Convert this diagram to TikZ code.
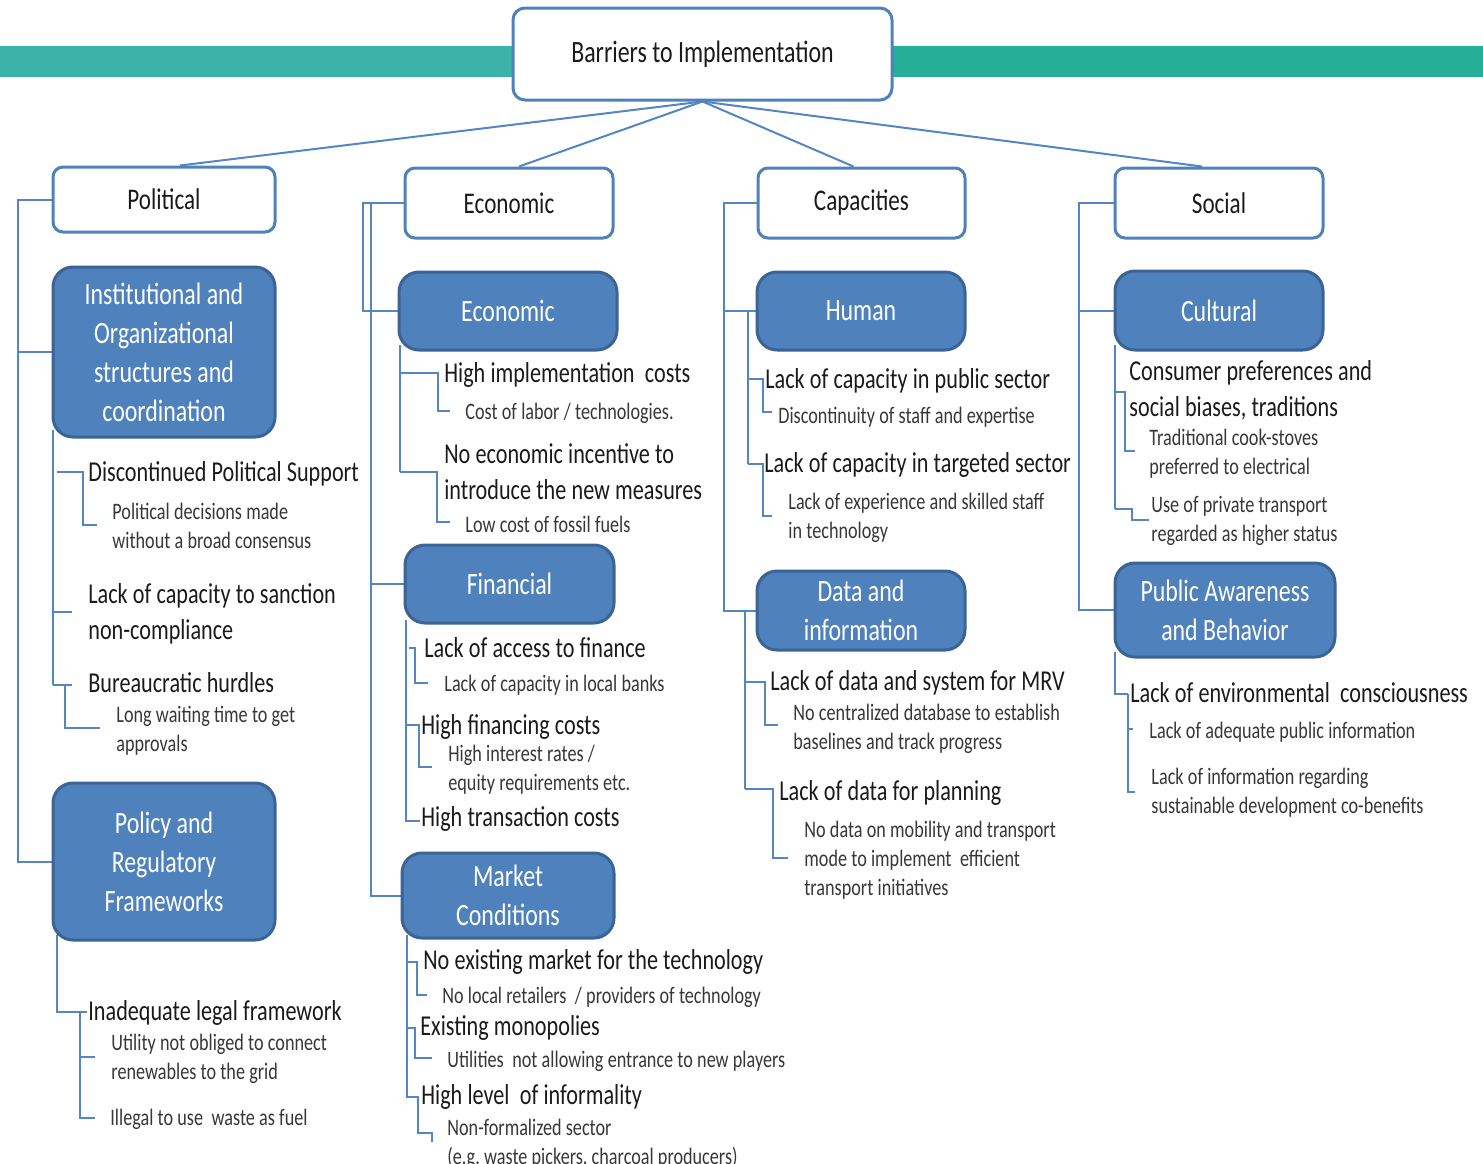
\documentclass[tikz,border=0pt]{standalone}
\usepackage{fontspec}
\setmainfont{Carlito}[FakeStretch=0.77]
\usetikzlibrary{backgrounds}
\definecolor{teal1}{RGB}{59,179,168}
\definecolor{teal2}{RGB}{38,175,152}
\definecolor{boxblue}{RGB}{79,129,189}
\definecolor{boxedge}{RGB}{58,99,150}
\definecolor{linkblue}{RGB}{84,134,196}
\definecolor{itemtext}{RGB}{26,26,26}
\definecolor{subtext}{RGB}{55,55,55}
\tikzset{
  topbox/.style={draw=boxblue, line width=1.5pt, fill=white, rounded corners=6pt,
    font=\fontsize{15.5}{19}\selectfont, text=itemtext, inner sep=0pt},
  catbox/.style={draw=boxblue, line width=1.5pt, fill=white, rounded corners=5pt,
    font=\fontsize{15}{18}\selectfont, text=itemtext, inner sep=0pt},
  bluebox/.style={draw=boxedge, line width=1.5pt, fill=boxblue, rounded corners=10pt,
    font=\fontsize{15.5}{19.5}\selectfont, text=white, align=center, inner sep=0pt},
  % narrow word spacing to suit the condensed face
  tightspace/.style={execute at begin node={\spaceskip=0.18em plus 0.04em minus 0.03em\relax}},
  itemtxt/.style={anchor=base west, inner sep=0pt, text width=220pt, align=left,
    font=\fontsize{14.4}{18}\selectfont, text=itemtext, tightspace},
  subtxt/.style={anchor=base west, inner sep=0pt, text width=220pt, align=left,
    font=\fontsize{11.8}{14.5}\selectfont, text=subtext, tightspace},
  linkline/.style={draw=linkblue, line width=1pt},
}
\begin{document}
\begin{tikzpicture}[x=0.5pt,y=-0.5pt]
\useasboundingbox (0,0) rectangle (1483,1163);

% ---- boxes ----
\node[topbox, minimum width=189.5pt, minimum height=46pt] (top) at (702.5,54) {Barriers to Implementation};

\node[catbox, minimum width=111pt, minimum height=32.5pt] (pol) at (164,199.5) {Political};
\node[catbox, minimum width=104pt, minimum height=35pt] (eco) at (509,203) {Economic};
\node[catbox, minimum width=103.5pt, minimum height=35pt] (cap) at (861.5,203) {Capacities};
\node[catbox, minimum width=104pt, minimum height=35pt] (soc) at (1219,203) {Social};

\node[bluebox, minimum width=111pt, minimum height=85pt] (ins) at (164,352)
  {Institutional and\\Organizational\\structures and\\coordination};
\node[bluebox, minimum width=111pt, minimum height=78.5pt] (reg) at (164,861.5)
  {Policy and\\Regulatory\\Frameworks};
\node[bluebox, minimum width=109pt, minimum height=39pt] (ecb) at (508,311) {Economic};
\node[bluebox, minimum width=104.5pt, minimum height=39pt] (fin) at (509.5,584) {Financial};
\node[bluebox, minimum width=106pt, minimum height=42.5pt] (mkt) at (508,895.5) {Market\\Conditions};
\node[bluebox, minimum width=104pt, minimum height=39pt] (hum) at (861,311) {Human};
\node[bluebox, minimum width=104pt, minimum height=39.5pt] (dat) at (861,610.5) {Data and\\information};
\node[bluebox, minimum width=104pt, minimum height=39.5pt] (cul) at (1219,310.5) {Cultural};
\node[bluebox, minimum width=110pt, minimum height=47pt] (pab) at (1225,610) {Public Awareness\\and Behavior};

% ---- political items ----
\node[itemtxt] (p1) at (88,481) {Discontinued Political Support};
\node[subtxt] (p1a) at (112,519) {Political decisions made\\without a broad consensus};
\node[itemtxt] (p2) at (88,603) {Lack of capacity to sanction\\non-compliance};
\node[itemtxt] (p3) at (88,692) {Bureaucratic hurdles};
\node[subtxt] (p3a) at (116,722) {Long waiting time to get\\approvals};
\node[itemtxt] (p4) at (88,1020) {Inadequate legal framework};
\node[subtxt] (p4a) at (111,1050) {Utility not obliged to connect\\renewables to the grid};
\node[subtxt] (p4b) at (110,1125) {Illegal to use\ \ waste as fuel};

% ---- economic items ----
\node[itemtxt] (e1) at (444,382) {High implementation\ \ costs};
\node[subtxt] (e1a) at (465,419) {Cost of labor / technologies.};
\node[itemtxt] (e2) at (444,463) {No economic incentive to\\introduce the new measures};
\node[subtxt] (e2a) at (465,532) {Low cost of fossil fuels};
\node[itemtxt] (f1) at (424,657) {Lack of access to finance};
\node[subtxt] (f1a) at (444,691) {Lack of capacity in local banks};
\node[itemtxt] (f2) at (421,734) {High financing costs};
\node[subtxt] (f2a) at (448,761) {High interest rates /\\equity requirements etc.};
\node[itemtxt] (f3) at (421,826) {High transaction costs};
\node[itemtxt] (m1) at (423,969) {No existing market for the technology};
\node[subtxt] (m1a) at (442,1003) {No local retailers\ \ / providers of technology};
\node[itemtxt] (m2) at (420,1035) {Existing monopolies};
\node[subtxt] (m2a) at (447,1067) {Utilities\ \ not allowing entrance to new players};
\node[itemtxt] (m3) at (421,1104) {High level\ \ of informality};
\node[subtxt] (m3a) at (447,1135) {Non-formalized sector\\(e.g.\ waste pickers, charcoal producers)};

% ---- capacities items ----
\node[itemtxt] (h1) at (765,388) {Lack of capacity in public sector};
\node[subtxt] (h1a) at (778,423) {Discontinuity of staff and expertise};
\node[itemtxt] (h2) at (764,472) {Lack of capacity in targeted sector};
\node[subtxt] (h2a) at (788,509) {Lack of experience and skilled staff\\in technology};
\node[itemtxt] (d1) at (770,690) {Lack of data and system for MRV};
\node[subtxt] (d1a) at (793,720) {No centralized database to establish\\baselines and track progress};
\node[itemtxt] (d2) at (779,800) {Lack of data for planning};
\node[subtxt] (d2a) at (804,837) {No data on mobility and transport\\mode to implement\ \ efficient\\transport initiatives};

% ---- social items ----
\node[itemtxt] (c1) at (1129,380) {Consumer preferences and\\social biases, traditions};
\node[subtxt] (c1a) at (1149,445) {Traditional cook-stoves\\preferred to electrical};
\node[subtxt] (c1b) at (1151,512) {Use of private transport\\regarded as higher status};
\node[itemtxt] (a1) at (1130,702) {Lack of environmental\ \ consciousness};
\node[subtxt] (a1a) at (1149,738) {Lack of adequate public information};
\node[subtxt] (a1b) at (1151,784) {Lack of information regarding\\sustainable development co-benefits};

\begin{pgfonlayer}{background}
  % header band
  \fill[teal1] (0,46) rectangle (530,77);
  \fill[teal2] (870,46) rectangle (1483,77);

  % title to categories
  \draw[linkline] (top.south) -- ([xshift=8pt]pol.north);
  \draw[linkline] (top.south) -- ([xshift=5pt]eco.north);
  \draw[linkline] (top.south) -- ([xshift=-4pt]cap.north);
  \draw[linkline] (top.south) -- ([xshift=-8.5pt]soc.north);

  % political spine
  \coordinate (polspine) at (18,199.5);
  \draw[linkline] (pol.west) -- (polspine) |- (reg.west);
  \draw[linkline] (polspine) |- (ins.west);
  % institutional branch
  \draw[linkline] (53,430) -- (53,685);
  \draw[linkline] (57,472) -- (83,472) -- (83,525) -- (97,525);
  \draw[linkline] (53,612) -- (72,612);
  \draw[linkline] (53,685) -- (72,685);
  \draw[linkline] (65,685) -- (65,728) -- (100,728);
  % regulatory branch
  \draw[linkline] (57,935) -- (57,1012) -- (87,1012);
  \draw[linkline] (80,1012) -- (80,1118) -- (95,1118);
  \draw[linkline] (80,1057) -- (95,1057);

  % economic spine
  \coordinate (ecospineA) at (363,203);
  \coordinate (ecospineB) at (371,203);
  \draw[linkline] (eco.west) -- (ecospineA) |- (ecb.west);
  \draw[linkline] (ecospineB) |- (mkt.west);
  \draw[linkline] (ecospineB |- fin.west) -- (fin.west);
  % economic branch
  \draw[linkline] (400,345) -- (400,472);
  \draw[linkline] (400,373) -- (438,373) -- (438,411) -- (450,411);
  \draw[linkline] (400,472) -- (437,472) -- (437,522) -- (450,522);
  % financial branch
  \draw[linkline] (406,620) -- (406,821) -- (420,821);
  \draw[linkline] (409,648) -- (415,648) -- (415,683) -- (428,683);
  \draw[linkline] (406,725) -- (420,725);
  \draw[linkline] (419,725) -- (419,767) -- (432,767);
  % market branch
  \draw[linkline] (407,935) -- (407,1097) -- (418,1097) -- (418,1133) -- (432,1133) -- (432,1142);
  \draw[linkline] (407,962) -- (417,962) -- (417,995) -- (427,995);
  \draw[linkline] (407,1028) -- (415,1028) -- (415,1058) -- (432,1058);

  % capacities spine
  \coordinate (capspine) at (724,203);
  \draw[linkline] (cap.west) -- (capspine) |- (dat.west);
  \draw[linkline] (capspine |- hum.west) -- (hum.west);
  % human branch
  \draw[linkline] (748,311) -- (748,464);
  \draw[linkline] (748,379) -- (763,379) -- (763,412) -- (772,412);
  \draw[linkline] (748,464) -- (763,464) -- (763,516) -- (772,516);
  % data branch
  \draw[linkline] (745,610) -- (745,789);
  \draw[linkline] (745,682) -- (765,682) -- (765,725) -- (778,725);
  \draw[linkline] (745,789) -- (773,789) -- (773,858) -- (788,858);

  % social spine
  \coordinate (socspine) at (1079,203);
  \draw[linkline] (soc.west) -- (socspine) |- (pab.west);
  \draw[linkline] (socspine |- cul.west) -- (cul.west);
  % cultural branch
  \draw[linkline] (1115,345) -- (1115,509);
  \draw[linkline] (1115,392) -- (1125,392) -- (1125,451) -- (1135,451);
  \draw[linkline] (1115,509) -- (1132,509) -- (1132,520) -- (1149,520);
  % awareness branch
  \draw[linkline] (1115,652) -- (1115,694) -- (1128,694);
  \draw[linkline] (1128,694) -- (1128,792) -- (1135,792);
  \draw[linkline] (1128,729) -- (1133,729);
\end{pgfonlayer}
\end{tikzpicture}
\end{document}
